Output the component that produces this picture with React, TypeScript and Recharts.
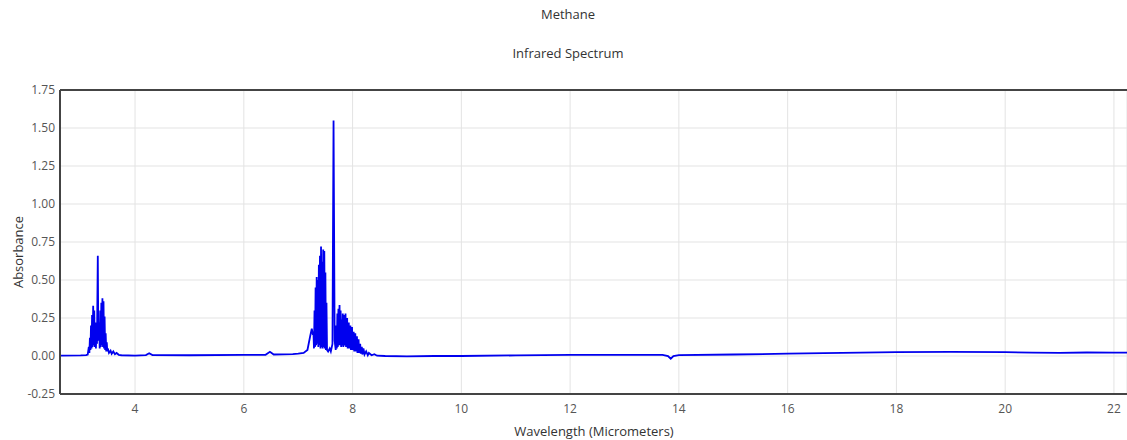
import { LineChart, Line, XAxis, YAxis, CartesianGrid, ReferenceLine } from "recharts";

// wavelength (µm) and absorbance
const wavelengths = [
  2.6, 3.0, 3.1, 3.13, 3.15, 3.16, 3.17, 3.18, 3.19, 3.2, 3.21, 3.22, 3.23, 3.24, 3.25, 3.26, 3.27, 3.28, 3.29, 3.3,
  3.315, 3.325, 3.34, 3.35, 3.36, 3.37, 3.38, 3.39, 3.4, 3.41, 3.42, 3.43, 3.44, 3.45, 3.46, 3.47, 3.48, 3.49, 3.5, 3.52,
  3.55, 3.57, 3.6, 3.63, 3.66, 3.7, 3.75, 4.0, 4.2, 4.26, 4.32, 5.0, 6.0, 6.4, 6.48, 6.55, 6.9, 7.0, 7.1, 7.17,
  7.22, 7.25, 7.27, 7.28, 7.29, 7.3, 7.31, 7.32, 7.33, 7.34, 7.35, 7.36, 7.37, 7.38, 7.39, 7.4, 7.41, 7.42, 7.43, 7.44,
  7.45, 7.46, 7.47, 7.48, 7.49, 7.5, 7.51, 7.52, 7.53, 7.55, 7.58, 7.6, 7.63, 7.65, 7.67, 7.69, 7.7, 7.71, 7.72, 7.73,
  7.74, 7.75, 7.76, 7.77, 7.78, 7.79, 7.8, 7.81, 7.82, 7.83, 7.85, 7.86, 7.87, 7.88, 7.9, 7.91, 7.93, 7.94, 7.96, 7.97,
  7.99, 8.0, 8.02, 8.03, 8.05, 8.06, 8.08, 8.09, 8.11, 8.12, 8.14, 8.15, 8.17, 8.18, 8.2, 8.22, 8.25, 8.28, 8.3, 8.35,
  8.4, 8.45, 8.6, 9.0, 9.5, 10.0, 11.0, 12.0, 13.0, 13.7, 13.8, 13.85, 13.9, 14.0, 15.0, 16.0, 17.0, 18.0, 19.0, 20.0,
  20.5, 21.0, 21.5, 22.0, 22.3,
];
const absorbance = [
  0.003, 0.004, 0.006, 0.01, 0.06, 0.02, 0.12, 0.04, 0.2, 0.05, 0.27, 0.06, 0.33, 0.07, 0.3, 0.06, 0.22, 0.05, 0.15, 0.08,
  0.66, 0.1, 0.22, 0.05, 0.3, 0.06, 0.35, 0.07, 0.38, 0.06, 0.36, 0.05, 0.26, 0.04, 0.15, 0.03, 0.09, 0.03, 0.05, 0.02,
  0.035, 0.015, 0.03, 0.012, 0.02, 0.008, 0.005, 0.003, 0.006, 0.018, 0.006, 0.005, 0.008, 0.008, 0.028, 0.01, 0.012, 0.015, 0.02, 0.04,
  0.13, 0.18, 0.14, 0.16, 0.05, 0.3, 0.06, 0.45, 0.07, 0.52, 0.08, 0.5, 0.06, 0.6, 0.07, 0.66, 0.05, 0.72, 0.06, 0.62,
  0.05, 0.7, 0.06, 0.69, 0.05, 0.55, 0.04, 0.35, 0.04, 0.03, 0.05, 0.03, 0.08, 1.55, 0.1, 0.04, 0.2, 0.05, 0.28, 0.06,
  0.31, 0.07, 0.335, 0.07, 0.3, 0.06, 0.24, 0.07, 0.28, 0.06, 0.27, 0.07, 0.28, 0.06, 0.25, 0.05, 0.22, 0.05, 0.2, 0.04,
  0.19, 0.04, 0.16, 0.03, 0.15, 0.03, 0.13, 0.02, 0.11, 0.02, 0.08, 0.015, 0.06, 0.01, 0.05, 0.01, 0.03, 0.005, 0.02, 0.005,
  0.012, 0.002, 0.0, -0.002, 0.0, 0.0, 0.004, 0.008, 0.008, 0.008, 0.0, -0.018, 0.0, 0.006, 0.01, 0.015, 0.02, 0.025, 0.027, 0.025,
  0.022, 0.02, 0.023, 0.022, 0.022,
];
const xTicks = [4, 6, 8, 10, 12, 14, 16, 18, 20, 22];
const yTicks = [-0.25, 0, 0.25, 0.5, 0.75, 1, 1.25, 1.5, 1.75];

const data = wavelengths.map((x, i) => ({ x, y: absorbance[i] }));

const tickStyle = { fontSize: 12, fill: "#555" };
const frame = { stroke: "#444", strokeWidth: 2 };

export default function App() {
  return (
    <div style={{ position: "absolute", left: 0, top: 0, width: 1127, height: 440, fontFamily: '"Open Sans", sans-serif', color: "#333", overflow: "hidden", background: "#fff" }}>
      <div style={{ position: "absolute", left: 568, top: 14, transform: "translate(-50%, -50%)", fontSize: 13, whiteSpace: "nowrap" }}>Methane</div>
      <div style={{ position: "absolute", left: 568, top: 53, transform: "translate(-50%, -50%)", fontSize: 13, whiteSpace: "nowrap" }}>Infrared Spectrum</div>
      <div style={{ position: "absolute", left: 18, top: 252, transform: "translate(-50%, -50%) rotate(-90deg)", fontSize: 13, whiteSpace: "nowrap" }}>Absorbance</div>
      <div style={{ position: "absolute", left: 594, top: 431, transform: "translate(-50%, -50%)", fontSize: 13, whiteSpace: "nowrap" }}>Wavelength (Micrometers)</div>
      <LineChart width={1127} height={440} data={data} margin={{ top: 90, right: 0, bottom: 0, left: 0 }}>
        <CartesianGrid stroke="#e3e3e3" />
        <XAxis
          dataKey="x"
          type="number"
          domain={[2.62, 22.24]}
          ticks={xTicks}
          allowDataOverflow
          height={46}
          tickSize={0}
          tickMargin={10}
          tick={tickStyle}
          axisLine={frame}
          tickLine={false}
        />
        <YAxis
          type="number"
          domain={[-0.25, 1.75]}
          ticks={yTicks}
          allowDataOverflow
          width={60}
          tickSize={0}
          tickMargin={5}
          tick={tickStyle}
          tickFormatter={(v: number) => v.toFixed(2)}
          axisLine={frame}
          tickLine={false}
        />
        <ReferenceLine y={1.75} stroke="#444" strokeWidth={2} />
        <Line type="linear" dataKey="y" stroke="#0000ee" strokeWidth={1.8} dot={false} isAnimationActive={false} />
      </LineChart>
    </div>
  );
}
